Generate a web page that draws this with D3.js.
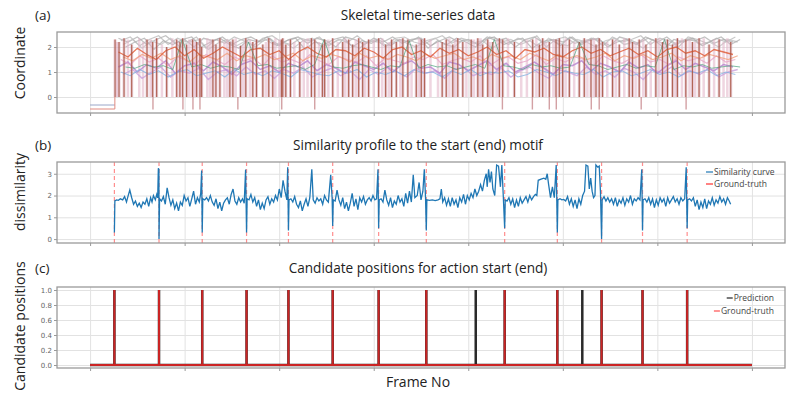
<!DOCTYPE html>
<html>
<head>
<meta charset="utf-8">
<script src="https://cdn.jsdelivr.net/npm/d3@7"></script>
<style>
body{margin:0;background:#fff;}
text{font-family:'Open Sans',sans-serif;}
</style>
</head>
<body>
<svg id="chart" width="800" height="397"></svg>
<script>
// ---- data ----
var frameTicks=[0,1000,2000,3000,4000,5000,6000,7000];
var coordTicks=[0,1,2];
var dissimTicks=[0,1,2,3];
var candTicks=[0,0.2,0.4,0.6,0.8,1.0];

var groundTruth=[257,729,1186,1655,2098,2566,3052,3556,4385,4942,5410,5843,6315];
var predictions=[257,729,1186,1655,2098,2566,3052,3556,4079,4385,4942,5206,5410,5843,6315];
var frameEnd=7000;

// skeletal joints, one value every 100 frames (start frame differs per joint)
var skelStep=100;
var skelGrayA=[2.35,2.2,2.4,2.1,2.3,2.45,2.15,2.3,2.0,2.35,2.25,2.4,2.1,2.3,2.4,2.2,2.35,2.05,2.3,2.4,2.15,2.35,2.25,2.0,2.4,2.3,2.1,2.35,2.2,2.4,2.15,2.3,2.35,2.05,2.25,2.4,2.2,2.3,2.1,2.4,2.25,2.35,2.0,2.3,2.4,2.15,2.3,2.2,2.4,2.1,2.35,2.25,2.05,2.4,2.3,2.15,2.35,2.2,2.4,2.1,2.3,2.25,2.4,2.15,2.3,2.2];
var skelGrayB=[2.1,2.3,1.95,2.25,2.1,2.35,2.0,2.2,2.3,1.9,2.15,2.3,2.05,2.25,2.0,2.3,2.1,2.2,1.95,2.25,2.35,2.0,2.15,2.3,2.1,1.95,2.25,2.2,2.05,2.3,2.15,2.0,2.25,2.35,2.1,2.0,2.3,2.15,2.25,1.95,2.2,2.3,2.1,2.25,2.0,2.35,2.15,2.05,2.3,2.2,2.0,2.25,2.35,2.1,2.2,1.95,2.3,2.15,2.05,2.25,2.35,2.1,2.2,2.0,2.3,2.2];
var skelGrayC=[2.25,2.4,2.05,2.3,2.45,2.1,2.35,2.2,2.4,1.95,2.3,2.15,2.4,2.25,2.05,2.35,2.45,2.2,2.1,2.35,2.25,2.4,2.05,2.3,2.2,2.45,2.15,2.3,2.0,2.35,2.4,2.2,2.1,2.3,2.45,2.15,2.35,2.25,2.05,2.4,2.3,2.1,2.35,2.2,2.45,2.0,2.3,2.4,2.15,2.25,2.35,2.05,2.4,2.2,2.3,2.45,2.1,2.35,2.25,2.0,2.4,2.3,2.15,2.35,2.2,2.4];
var skelGrayD=[2.0,2.2,2.35,1.9,2.25,2.1,2.3,2.4,2.0,2.2,2.35,2.1,1.95,2.3,2.2,2.4,2.05,2.25,2.35,1.9,2.2,2.1,2.3,2.4,2.0,2.25,2.15,2.35,2.05,2.3,2.2,2.4,1.95,2.25,2.1,2.35,2.2,2.0,2.3,2.4,2.1,2.25,2.35,1.95,2.2,2.3,2.05,2.4,2.15,2.25,2.35,2.0,2.2,2.3,2.1,2.4,2.25,1.95,2.3,2.2,2.35,2.05,2.25,2.4,2.1,2.3];
var skelRed=[1.8,1.6,1.95,1.7,1.5,1.85,2.0,1.65,1.9,1.55,1.75,2.0,1.8,1.6,1.9,1.95,1.7,1.85,1.5,1.8,2.0,1.75,1.6,1.9,1.85,1.65,1.95,1.8,1.55,1.9,2.0,1.7,1.85,1.6,1.95,1.75,1.9,1.65,1.8,2.0,1.7,1.85,1.55,1.9,1.8,1.95,1.7,1.6,1.85,2.0,1.75,1.9,1.65,1.8,1.95,1.7,1.85,1.6,1.9,2.0,1.75,1.85,1.65,1.9,1.8,1.7];
var skelOrange=[1.6,1.45,1.7,1.55,1.75,1.5,1.65,1.4,1.7,1.6,1.5,1.75,1.45,1.65,1.55,1.7,1.5,1.6,1.75,1.45,1.65,1.55,1.7,1.6,1.4,1.75,1.55,1.65,1.5,1.7,1.6,1.45,1.7,1.55,1.65,1.75,1.5,1.6,1.45,1.7,1.55,1.65,1.5,1.75,1.6,1.45,1.7,1.55,1.65,1.5,1.6,1.75,1.45,1.65,1.55,1.7,1.5,1.6,1.75,1.45,1.65,1.55,1.7,1.6,1.5,1.65];
var skelPink=[1.5,1.3,1.65,1.4,1.55,1.25,1.6,1.45,1.35,1.7,1.5,1.3,1.6,1.45,1.55,1.25,1.65,1.4,1.5,1.35,1.7,1.45,1.3,1.6,1.5,1.4,1.65,1.25,1.55,1.45,1.35,1.6,1.5,1.7,1.3,1.45,1.55,1.4,1.65,1.25,1.5,1.6,1.35,1.45,1.7,1.3,1.55,1.4,1.6,1.5,1.25,1.65,1.45,1.35,1.55,1.7,1.4,1.5,1.3,1.6,1.45,1.55,1.35,1.65,1.4,1.5];
var skelPurple=[1.2,1.4,1.0,1.3,1.15,1.45,0.95,1.25,1.35,1.05,1.4,1.2,0.9,1.3,1.45,1.1,1.25,1.0,1.35,1.2,1.45,1.05,1.3,1.15,0.95,1.4,1.25,1.1,1.35,1.0,1.3,1.45,1.15,1.2,0.95,1.4,1.3,1.05,1.25,1.45,1.1,1.35,1.0,1.2,1.4,1.15,0.9,1.3,1.25,1.45,1.05,1.35,1.2,1.0,1.4,1.15,1.3,0.95,1.25,1.45,1.1,1.35,1.2,1.05,1.3,1.2];
var skelPurple2=[0.9,1.1,0.75,1.0,1.2,0.8,1.05,0.95,1.15,0.7,1.0,1.1,0.85,1.2,0.9,1.05,0.75,1.1,0.95,1.2,0.8,1.0,1.15,0.85,1.05,0.7,1.1,0.9,1.2,1.0,0.8,1.15,0.95,1.05,0.75,1.1,1.2,0.85,1.0,0.9,1.15,0.8,1.05,1.2,0.95,0.75,1.1,1.0,0.85,1.2,0.9,1.05,0.8,1.15,1.0,0.7,1.1,0.95,1.2,0.85,1.05,0.9,1.15,0.8,1.0,1.1];
var skelBlue=[1.0,0.85,1.1,0.9,1.05,0.8,1.0,1.1,0.85,0.95,1.05,0.8,1.1,0.9,1.0,0.85,1.05,0.95,0.8,1.1,1.0,0.9,0.85,1.05,0.95,1.1,0.8,1.0,0.9,1.05,0.85,1.1,0.95,1.0,0.8,1.05,0.9,1.1,0.85,1.0,0.95,1.05,0.8,0.9,1.1,1.0,0.85,1.05,0.95,0.9,1.1,0.8,1.0,1.05,0.85,0.95,1.1,0.9,1.0,0.8,1.05,0.95,1.1,0.85,1.0,0.9];
var skelGreen=[1.2,1.15,1.3,1.2,1.25,1.1,2.3,1.2,1.3,1.15,1.25,1.2,1.1,2.2,1.25,1.3,1.15,1.2,1.25,1.1,1.3,2.3,1.2,1.15,1.25,1.3,1.2,1.1,1.25,1.2,2.25,1.15,1.3,1.2,1.25,1.1,1.2,1.3,1.15,2.3,1.25,1.2,1.1,1.3,1.2,1.25,1.15,1.2,2.2,1.3,1.25,1.1,1.2,1.3,1.15,1.25,1.2,2.3,1.1,1.25,1.2,1.3,1.15,1.2,1.25,1.2];

// frames before the subject shows up: flat joints below zero
var idleRange=[0,262];
var idleLevels=[-0.32,-0.48];

// tracking dropouts: [frame, value before the drop]
var dropouts=[[264,2.3],[306,2.2],[359,2.35],[440,2.1],[602,2.3],[662,2.2],[704,2.35],[810,2.0],[916,2.3],[950,2.2],[979,2.35],[1021,2.1],[1084,2.3],[1127,2.2],[1162,2.35],[1180,2.0],[1299,2.3],[1331,2.1],[1373,2.35],[1478,2.2],[1510,2.3],[1591,2.05],[1647,2.35],[1721,2.2],[1760,2.3],[1827,2.1],[1890,2.35],[1932,2.2],[2024,2.3],[2038,2.35],[2070,2.1],[2119,2.3],[2218,2.2],[2341,2.35],[2376,2.3],[2457,2.1],[2481,2.3],[2566,2.35],[2672,2.2],[2735,2.3],[2777,2.1],[2841,2.35],[2883,2.2],[2946,2.3],[3052,2.35],[3126,2.1],[3189,2.3],[3239,2.2],[3308,2.35],[3361,2.3],[3450,2.1],[3503,2.3],[3537,2.35],[3724,2.2],[3767,2.3],[3836,2.1],[3889,2.35],[3942,2.2],[4031,2.3],[4101,2.35],[4153,2.1],[4206,2.3],[4259,2.2],[4329,2.35],[4364,2.3],[4488,2.2],[4681,2.3],[4752,2.1],[4787,2.35],[4857,2.2],[4928,2.3],[4963,2.35],[4998,2.1],[5069,2.3],[5174,2.2],[5227,2.35],[5298,2.3],[5351,2.1],[5385,2.35],[5420,2.2],[5526,2.3],[5597,2.1],[5702,2.35],[5737,2.2],[5808,2.3],[5879,2.1],[5984,2.35],[6054,2.2],[6107,2.3],[6160,2.1],[6212,2.35],[6301,2.3],[6371,2.2],[6441,2.35],[6547,2.1],[6653,2.3],[6776,2.2]];
var faintDropouts=[[285,2.2],[400,2.3],[520,2.35],[560,2.2],[640,2.3],[760,2.1],[870,2.35],[1050,2.3],[1110,2.2],[1240,2.35],[1270,2.3],[1420,2.2],[1450,2.3],[1540,2.35],[1620,2.1],[1690,2.3],[1860,2.2],[1960,2.35],[2000,2.3],[2160,2.2],[2260,2.3],[2300,2.35],[2420,2.2],[2520,2.3],[2620,2.2],[2700,2.35],[2810,2.3],[2910,2.2],[3000,2.3],[3090,2.35],[3160,2.2],[3280,2.3],[3400,2.1],[3480,2.35],[3600,2.3],[3680,2.2],[3800,2.35],[3860,2.3],[3980,2.2],[4060,2.3],[4130,2.35],[4230,2.2],[4300,2.3],[4420,2.35],[4560,2.2],[4620,2.3],[4720,2.35],[4820,2.2],[4900,2.3],[5030,2.35],[5120,2.2],[5260,2.3],[5330,2.35],[5470,2.2],[5560,2.3],[5650,2.35],[5770,2.2],[5850,2.3],[5930,2.2],[6020,2.35],[6080,2.3],[6190,2.2],[6260,2.35],[6340,2.3],[6400,2.2],[6490,2.35],[6600,2.3],[6700,2.2],[6740,2.35]];
var deepDropouts=[665,982,1088,1162,1563,2027,2376,4361,4678,4857,4931,5301,5385,5829,6304];
var deepLevel=-0.5;

// similarity profile: [frame, dissimilarity]
var similarity=[
[257,0.3],[262,1.75],[280,1.8],[300,1.78],[320,1.85],[345,1.8],[365,1.95],[385,1.7],[400,1.95],[420,2.25],[440,1.9],[460,1.6],[480,1.75],[500,1.5],[520,1.65],[540,1.45],[560,1.7],[580,1.6],[600,1.85],[620,1.5],[640,1.9],[655,1.7],[670,2.0],[690,1.8],[705,2.05],[715,1.9],[722,3.25],[728,3.2],[729,0.0],
[735,1.85],[755,1.75],[775,1.95],[795,1.6],[815,2.35],[835,1.9],[855,1.55],[875,1.8],[895,1.4],[915,1.65],[935,1.3],[955,1.7],[975,1.55],[995,2.0],[1015,1.75],[1035,1.9],[1055,1.5],[1075,1.85],[1095,2.2],[1115,1.6],[1135,1.9],[1155,1.7],[1170,2.1],[1180,3.15],[1186,0.3],
[1192,1.85],[1212,1.8],[1232,1.9],[1252,1.75],[1272,2.0],[1292,1.7],[1312,1.55],[1332,1.85],[1352,1.4],[1372,1.7],[1392,1.3],[1412,1.65],[1432,1.8],[1452,1.9],[1472,1.6],[1492,2.05],[1512,2.3],[1532,1.75],[1552,1.6],[1572,1.9],[1592,1.7],[1612,1.85],[1630,1.65],[1645,3.2],[1655,0.3],
[1661,1.85],[1681,1.8],[1701,2.05],[1721,1.7],[1741,1.9],[1761,1.5],[1781,1.8],[1801,1.35],[1821,1.65],[1841,1.4],[1861,1.8],[1881,1.95],[1901,1.6],[1921,1.85],[1941,1.7],[1961,2.0],[1981,1.8],[2001,2.3],[2021,1.9],[2041,2.7],[2061,2.2],[2081,1.8],[2090,3.3],[2098,0.4],
[2104,1.8],[2124,1.85],[2144,1.7],[2164,1.95],[2184,1.6],[2204,1.45],[2224,1.75],[2244,1.3],[2264,1.6],[2284,1.85],[2304,1.5],[2324,1.9],[2345,3.2],[2360,1.8],[2380,1.65],[2400,1.9],[2420,1.75],[2440,1.85],[2460,1.6],[2480,2.0],[2500,1.8],[2520,1.7],[2545,2.95],[2560,1.9],[2566,0.6],
[2572,1.8],[2592,1.75],[2612,2.25],[2632,1.8],[2652,1.55],[2672,1.9],[2692,1.4],[2712,1.7],[2732,1.3],[2752,1.65],[2772,2.1],[2792,1.5],[2812,1.85],[2832,1.35],[2852,1.9],[2872,1.7],[2892,1.95],[2912,1.6],[2932,1.8],[2952,1.9],[2972,1.75],[2992,2.0],[3012,1.8],[3030,1.85],[3045,3.2],[3052,0.5],
[3058,1.8],[3078,1.85],[3098,1.7],[3118,2.25],[3138,1.8],[3158,1.55],[3178,1.9],[3198,1.45],[3218,1.75],[3238,1.6],[3258,2.0],[3278,1.7],[3298,1.85],[3318,1.5],[3338,2.1],[3358,1.65],[3378,2.2],[3398,1.7],[3418,2.95],[3435,1.9],[3460,2.0],[3480,2.6],[3500,1.8],[3520,2.2],[3535,3.2],[3548,1.9],[3556,0.4],
[3562,1.8],[3590,1.78],[3620,1.8],[3650,1.77],[3680,1.8],[3700,1.85],[3715,2.3],[3730,1.7],[3750,1.9],[3770,1.55],[3790,1.85],[3810,1.5],[3830,1.9],[3850,1.6],[3870,1.8],[3890,1.45],[3910,1.9],[3930,1.7],[3950,2.05],[3970,1.6],[3990,2.0],[4010,1.8],[4030,2.1],[4050,1.9],[4070,2.3],[4090,2.0],[4110,2.2],[4130,2.5],[4150,2.2],[4170,2.7],[4190,3.0],[4200,2.4],[4215,3.2],[4230,2.6],[4245,3.1],[4260,2.3],[4280,2.0],[4300,3.4],[4320,3.35],[4340,2.4],[4355,3.4],[4370,2.0],[4385,0.5],
[4391,1.8],[4410,1.75],[4430,1.9],[4450,1.6],[4470,1.85],[4490,1.45],[4510,1.8],[4530,1.5],[4550,1.9],[4570,1.65],[4590,1.8],[4610,1.95],[4630,1.7],[4650,2.0],[4670,1.8],[4690,1.95],[4710,2.05],[4725,2.0],[4740,2.7],[4770,2.75],[4800,2.8],[4820,2.75],[4835,3.0],[4850,2.5],[4870,1.9],[4890,2.4],[4910,1.9],[4930,3.4],[4942,0.3],
[4948,1.8],[4970,1.85],[4990,1.8],[5010,1.82],[5030,1.75],[5050,1.95],[5070,1.6],[5090,1.85],[5110,1.5],[5130,1.8],[5150,1.4],[5170,1.85],[5190,1.6],[5210,2.0],[5230,2.2],[5245,3.4],[5265,3.35],[5280,2.3],[5295,2.8],[5310,2.2],[5325,1.9],[5340,2.0],[5350,3.4],[5370,3.3],[5385,3.35],[5398,2.2],[5410,0.0],
[5416,1.8],[5436,1.95],[5456,1.75],[5476,1.9],[5496,1.7],[5516,1.85],[5536,1.6],[5556,1.9],[5576,1.5],[5596,1.8],[5616,1.65],[5636,1.9],[5656,1.55],[5676,1.85],[5696,1.7],[5716,2.0],[5736,1.6],[5756,1.85],[5776,1.75],[5796,1.9],[5816,1.8],[5835,3.2],[5843,0.4],
[5849,1.8],[5869,1.85],[5889,1.7],[5909,1.9],[5929,1.6],[5949,1.85],[5969,1.45],[5989,1.8],[6009,1.55],[6029,1.9],[6049,1.7],[6069,1.85],[6089,1.5],[6109,1.9],[6129,1.65],[6149,1.8],[6169,1.95],[6189,1.7],[6209,1.85],[6229,1.6],[6249,1.9],[6269,1.75],[6289,1.85],[6305,3.3],[6315,0.5],
[6321,1.8],[6341,1.85],[6361,1.75],[6381,1.9],[6401,1.5],[6421,1.8],[6441,1.35],[6461,1.7],[6481,1.45],[6501,1.85],[6521,1.4],[6541,1.75],[6561,1.6],[6581,1.9],[6601,1.55],[6621,1.8],[6641,1.65],[6661,1.95],[6681,1.7],[6701,1.85],[6721,1.6],[6741,1.9],[6760,1.75],[6775,1.6]
];

// ---- drawing ----
var svg=d3.select('#chart');
var plotLeft=57;
var plotRight=785;
var x=d3.scaleLinear().domain([-350,7350]).range([plotLeft,plotRight]);
var gridColor='#e2e2e2';
var tickColor='#666';

function makePanel(top,bottom,yDomain,yTicks,fmt){
    var y=d3.scaleLinear().domain(yDomain).range([bottom,top]);
    var g=svg.append('g');
    // grid
    g.append('g')
        .attr('transform','translate(0,'+bottom+')')
        .call(d3.axisBottom(x).tickValues(frameTicks).tickSize(-(bottom-top)).tickFormat(''))
        .call(function(a){a.select('.domain').remove();a.selectAll('line').attr('stroke',gridColor);});
    g.append('g')
        .attr('transform','translate('+plotLeft+',0)')
        .call(d3.axisLeft(y).tickValues(yTicks).tickSize(-(plotRight-plotLeft)).tickFormat(''))
        .call(function(a){a.select('.domain').remove();a.selectAll('line').attr('stroke',gridColor);});
    // small outer ticks + labels
    g.append('g')
        .attr('transform','translate('+plotLeft+',0)')
        .call(d3.axisLeft(y).tickValues(yTicks).tickSize(3).tickPadding(2).tickFormat(fmt))
        .call(function(a){
            a.select('.domain').remove();
            a.selectAll('line').attr('stroke','#999');
            a.selectAll('text').attr('fill',tickColor).style('font-size','7px').style('font-family','DejaVu Sans');
        });
    g.append('g')
        .attr('transform','translate(0,'+bottom+')')
        .call(d3.axisBottom(x).tickValues(frameTicks).tickSize(3).tickFormat(''))
        .call(function(a){a.select('.domain').remove();a.selectAll('line').attr('stroke','#999');});
    var clipId='clip'+top;
    svg.append('clipPath').attr('id',clipId)
        .append('rect').attr('x',plotLeft).attr('y',top).attr('width',plotRight-plotLeft).attr('height',bottom-top);
    var body=g.append('g').attr('clip-path','url(#'+clipId+')');
    var frame=function(){
        g.append('rect')
            .attr('x',plotLeft).attr('y',top)
            .attr('width',plotRight-plotLeft).attr('height',bottom-top)
            .attr('fill','none').attr('stroke','#9a9a9a').attr('stroke-width',1.3);
    };
    return {g:g,body:body,y:y,top:top,bottom:bottom,frame:frame};
}

function titleRow(letter,title,baseline){
    svg.append('text').attr('x',35).attr('y',baseline)
        .style('font-size','13.5px').attr('fill','#222').text(letter);
    svg.append('text').attr('x',(plotLeft+plotRight)/2-3).attr('y',baseline)
        .attr('text-anchor','middle').style('font-size','13.6px').attr('fill','#222').text(title);
}

function yLabel(label,cy){
    svg.append('text')
        .attr('transform','translate(25,'+cy+') rotate(-90)')
        .attr('text-anchor','middle')
        .style('font-size','14px').attr('fill','#222').text(label);
}

// (a) skeletal time series
titleRow('(a)','Skeletal time-series data',20);
yLabel('Coordinate',63);
var pa=makePanel(32,113,[-0.64,2.6],coordTicks,d3.format('d'));
var line=d3.line().x(function(d){return x(d[0]);}).y(function(d){return pa.y(d[1]);});
function drawSkel(s){
    var pts=s.vals.map(function(v,i){return [s.start+i*skelStep,v];});
    pa.body.append('path').datum(pts).attr('d',line)
        .attr('fill','none').attr('stroke',s.color).attr('stroke-width',s.w).attr('opacity',s.op);
}
function drawDrops(list,cls,color,width,op){
    pa.body.selectAll('line.'+cls).data(list).enter().append('line')
        .attr('class',cls)
        .attr('x1',function(d){return x(d[0]);}).attr('x2',function(d){return x(d[0]);})
        .attr('y1',function(d){return pa.y(d[1]);}).attr('y2',pa.y(0))
        .attr('stroke',color).attr('stroke-width',width).attr('opacity',op);
}
idleLevels.forEach(function(v,i){
    pa.body.append('path')
        .datum([[idleRange[0],v],[idleRange[1],v]])
        .attr('d',line).attr('fill','none')
        .attr('stroke',i==0?'#9aa6c8':'#e08a80').attr('stroke-width',1);
});
[
    {vals:skelGrayA,start:300,color:'#b4b4b4',w:1.3,op:0.8},
    {vals:skelGrayC,start:325,color:'#bdbdbd',w:1.2,op:0.8},
    {vals:skelGrayB,start:350,color:'#c4c4c4',w:1.3,op:0.8},
    {vals:skelGrayD,start:375,color:'#adadad',w:1.2,op:0.75}
].forEach(drawSkel);
drawDrops(faintDropouts,'dropFaint','#e2b4c8',2.5,0.55);
drawDrops(dropouts,'dropWide','#d8a6bc',3,0.5);
[
    {vals:skelPurple2,start:350,color:'#c9a0dc',w:1.4,op:0.8},
    {vals:skelPurple,start:300,color:'#b585d0',w:1.5,op:0.8},
    {vals:skelBlue,start:325,color:'#7fb0e0',w:1.1,op:0.75},
    {vals:skelPink,start:325,color:'#e6a2c6',w:1.2,op:0.75},
    {vals:skelOrange,start:350,color:'#f2a07e',w:1.2,op:0.8},
    {vals:skelRed,start:300,color:'#e0603c',w:1.3,op:0.85},
    {vals:skelGreen,start:375,color:'#4aa37c',w:1.0,op:0.7}
].forEach(drawSkel);
drawDrops(dropouts,'drop','#a8533f',1.2,0.85);
pa.body.selectAll('line.deep').data(deepDropouts).enter().append('line')
    .attr('class','deep')
    .attr('x1',function(d){return x(d);}).attr('x2',function(d){return x(d);})
    .attr('y1',pa.y(0)).attr('y2',pa.y(deepLevel))
    .attr('stroke','#c98a8e').attr('stroke-width',1.4).attr('opacity',0.8);
pa.body.append('line')
    .attr('x1',x(idleRange[1])).attr('x2',x(idleRange[1]))
    .attr('y1',pa.y(idleLevels[1])).attr('y2',pa.y(0))
    .attr('stroke','#e08a80').attr('stroke-width',1);
pa.frame();

// (b) similarity profile
titleRow('(b)','Similarity profile to the start (end) motif',150);
yLabel('dissimilarity',192);
var pb=makePanel(162,243,[-0.18,3.54],dissimTicks,d3.format('d'));
pb.body.selectAll('line.gt').data(groundTruth).enter().append('line')
    .attr('class','gt')
    .attr('x1',function(d){return x(d);}).attr('x2',function(d){return x(d);})
    .attr('y1',pb.top).attr('y2',pb.bottom)
    .attr('stroke','#ff7a7a').attr('stroke-width',1.2).attr('stroke-dasharray','4,3').attr('opacity',0.85);
pb.body.append('path').datum(similarity)
    .attr('d',d3.line().x(function(d){return x(d[0]);}).y(function(d){return pb.y(d[1]);}))
    .attr('fill','none').attr('stroke','#1f77b4').attr('stroke-width',1.3);
pb.frame();
var legB=[{label:'Similarity curve',color:'#1f77b4'},{label:'Ground-truth',color:'#ff3030'}];
legB.forEach(function(d,i){
    var yy=172+i*12;
    svg.append('line').attr('x1',706).attr('x2',713).attr('y1',yy).attr('y2',yy)
        .attr('stroke',d.color).attr('stroke-width',1.2);
    svg.append('text').attr('x',714).attr('y',yy+3)
        .style('font-size','8.5px').attr('fill','#444').text(d.label);
});

// (c) candidate positions
titleRow('(c)','Candidate positions for action start (end)',273);
yLabel('Candidate positions',326);
var pc=makePanel(287,368,[-0.04,1.04],candTicks,d3.format('.1f'));
function spikes(positions){
    var pts=[[0,0]];
    positions.forEach(function(f){pts.push([f,0],[f,1],[f,0]);});
    pts.push([frameEnd,0]);
    return pts;
}
var lineC=d3.line().x(function(d){return x(d[0]);}).y(function(d){return pc.y(d[1]);});
pc.body.append('path').datum(spikes(predictions)).attr('d',lineC)
    .attr('fill','none').attr('stroke','#2a2a2a').attr('stroke-width',2.5);
pc.body.append('path').datum(spikes(groundTruth)).attr('d',lineC)
    .attr('fill','none').attr('stroke','#d42424').attr('stroke-width',2).attr('opacity',0.95);
pc.frame();
var legC=[{label:'Prediction',color:'#222'},{label:'Ground-truth',color:'#ff5050'}];
legC.forEach(function(d,i){
    var yy=298+i*13;
    var tx=svg.append('text').attr('x',774).attr('y',yy+3).attr('text-anchor','end')
        .style('font-size','8.5px').attr('fill','#444').text(d.label);
    var w=tx.node().getComputedTextLength();
    svg.append('line').attr('x1',774-w-7).attr('x2',774-w-1).attr('y1',yy).attr('y2',yy)
        .attr('stroke',d.color).attr('stroke-width',1.2);
});

svg.append('text').attr('x',418).attr('y',387).attr('text-anchor','middle')
    .style('font-size','14px').attr('fill','#222').text('Frame No');
</script>
</body>
</html>
